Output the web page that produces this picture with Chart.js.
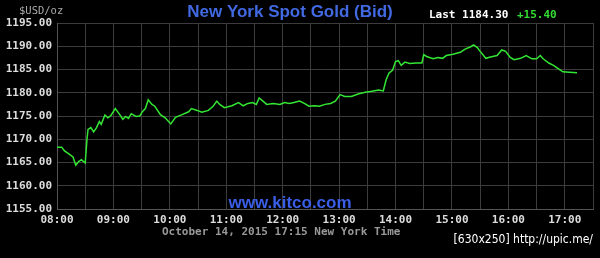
<!DOCTYPE html>
<html>
<head>
<meta charset="utf-8">
<script src="https://cdn.jsdelivr.net/npm/chart.js@4.4.1/dist/chart.umd.min.js"></script>
<style>
  html, body { margin: 0; padding: 0; background: #000; }
  canvas { display: block; }
</style>
</head>
<body>
<canvas id="goldChart" width="600" height="258"></canvas>
<script>
// minutes after 08:00 New York time
const minutes = [0, 5, 8, 13, 17, 20, 23, 26, 30, 32, 33, 36, 39, 42, 45, 47, 51, 54, 57, 62,
  66, 70, 73, 76, 79, 84, 88, 91, 94, 97, 101, 104, 110, 115, 121, 126, 133, 140, 143, 149,
  154, 161, 166, 170, 173, 178, 186, 193, 198, 203, 208, 212, 215, 219, 223, 230, 237, 242, 247, 252,
  258, 263, 268, 274, 279, 285, 291, 296, 301, 306, 313, 321, 328, 335, 342, 347, 350, 353, 357, 360,
  363, 366, 370, 375, 382, 388, 390, 393, 400, 405, 410, 414, 421, 429, 434, 440, 443, 447, 450, 456,
  461, 468, 473, 477, 482, 486, 493, 499, 505, 510, 514, 517, 523, 528, 533, 538, 545, 553];

const bidPrices = [1168.3, 1168.3, 1167.5, 1166.8, 1166.2, 1164.4, 1165.2, 1165.6, 1164.9, 1170.3,
  1172.1, 1172.5, 1171.6, 1172.5, 1173.8, 1173.2, 1175.2, 1174.6, 1175.0, 1176.6,
  1175.5, 1174.3, 1174.9, 1174.5, 1175.5, 1174.9, 1175.0, 1176.0, 1176.6, 1178.5,
  1177.5, 1177.1, 1175.3, 1174.6, 1173.3, 1174.7, 1175.3, 1175.9, 1176.6, 1176.2,
  1175.8, 1176.2, 1177.1, 1178.2, 1177.5, 1176.8, 1177.2, 1177.9, 1177.2, 1177.7,
  1177.9, 1177.5, 1178.9, 1178.2, 1177.5, 1177.7, 1177.5, 1177.9, 1177.7, 1177.9,
  1178.2, 1177.7, 1177.1, 1177.2, 1177.1, 1177.5, 1177.7, 1178.2, 1179.6, 1179.2,
  1179.2, 1179.8, 1180.1, 1180.3, 1180.6, 1180.4, 1182.8, 1184.2, 1184.9, 1186.7,
  1186.9, 1185.9, 1186.6, 1186.3, 1186.4, 1186.4, 1188.2, 1187.8, 1187.3, 1187.6,
  1187.4, 1188.0, 1188.3, 1188.7, 1189.4, 1189.9, 1190.3, 1189.7, 1188.9, 1187.4,
  1187.7, 1188.0, 1189.2, 1188.9, 1187.6, 1187.1, 1187.4, 1188.0, 1187.3, 1187.3,
  1188.0, 1187.3, 1186.4, 1185.9, 1185.2, 1184.5, 1184.4, 1184.3];

const hourLabels = ['08:00', '09:00', '10:00', '11:00', '12:00', '13:00', '14:00', '15:00', '16:00', '17:00'];

const lastPrice = '1184.30';
const change = '+15.40';

const mono = 'DejaVu Sans Mono';

// all the text around the plot
const textPlugin = {
  id: 'kitcoText',
  beforeDraw(chart) {
    const ctx = chart.ctx;
    ctx.save();
    ctx.fillStyle = '#000';
    ctx.fillRect(0, 0, chart.width, chart.height);
    ctx.restore();
  },
  afterDraw(chart) {
    const ctx = chart.ctx;
    ctx.save();
    ctx.textBaseline = 'middle';

    ctx.font = '10.5px ' + mono;
    ctx.fillStyle = '#aaa';
    ctx.textAlign = 'left';
    ctx.fillText('$USD/oz', 19, 11);

    ctx.font = 'bold 17px "Liberation Sans", Arial, sans-serif';
    ctx.fillStyle = '#4169e1';
    ctx.textAlign = 'center';
    ctx.fillText('New York Spot Gold (Bid)', 290, 12);

    ctx.font = 'bold 11px ' + mono;
    ctx.textAlign = 'left';
    ctx.fillStyle = '#fff';
    ctx.fillText('Last ' + lastPrice, 429, 15.5);
    ctx.fillStyle = '#33dd33';
    ctx.fillText(change, 517, 15.5);

    ctx.font = 'bold 17px "Liberation Sans", Arial, sans-serif';
    ctx.fillStyle = '#3a5ee6';
    ctx.textAlign = 'center';
    ctx.fillText('www.kitco.com', 290, 203);

    ctx.font = 'bold 11px ' + mono;
    ctx.fillStyle = '#999';
    ctx.textAlign = 'left';
    ctx.fillText('October 14, 2015 17:15 New York Time', 162, 232);

    ctx.font = '12px "DejaVu Sans Condensed", sans-serif';
    ctx.fillStyle = '#fff';
    ctx.textAlign = 'right';
    ctx.fillText('[630x250] http://upic.me/', 593, 240);
    ctx.restore();
  }
};

const ctx = document.getElementById('goldChart').getContext('2d');
new Chart(ctx, {
  type: 'line',
  data: {
    datasets: [{
      data: minutes.map((m, i) => ({ x: m, y: bidPrices[i] })),
      borderColor: '#33e633',
      borderWidth: 1.5,
      pointRadius: 0,
      tension: 0,
      fill: false
    }]
  },
  options: {
    responsive: false,
    animation: false,
    layout: { padding: { top: 23, right: 7, left: 0, bottom: 0 } },
    plugins: { legend: { display: false }, tooltip: { enabled: false } },
    scales: {
      x: {
        type: 'linear',
        min: 0,
        max: 570,
        afterFit: s => { s.height = 49; },
        grid: { color: '#3c3c3c', drawTicks: false },
        border: { color: '#555' },
        ticks: {
          stepSize: 30,
          autoSkip: false,
          maxRotation: 0,
          padding: 5,
          color: '#ddd',
          font: { family: mono, size: 11, weight: 'bold' },
          callback: v => (v % 60 === 0 ? hourLabels[v / 60] : '')
        }
      },
      y: {
        min: 1155,
        max: 1195,
        afterFit: s => { s.width = 57; },
        grid: { color: '#3c3c3c', drawTicks: false },
        border: { color: '#555' },
        ticks: {
          stepSize: 5,
          padding: 5,
          color: '#ddd',
          font: { family: mono, size: 11, weight: 'bold' },
          callback: v => v.toFixed(2)
        }
      }
    }
  },
  plugins: [textPlugin]
});
</script>
</body>
</html>
